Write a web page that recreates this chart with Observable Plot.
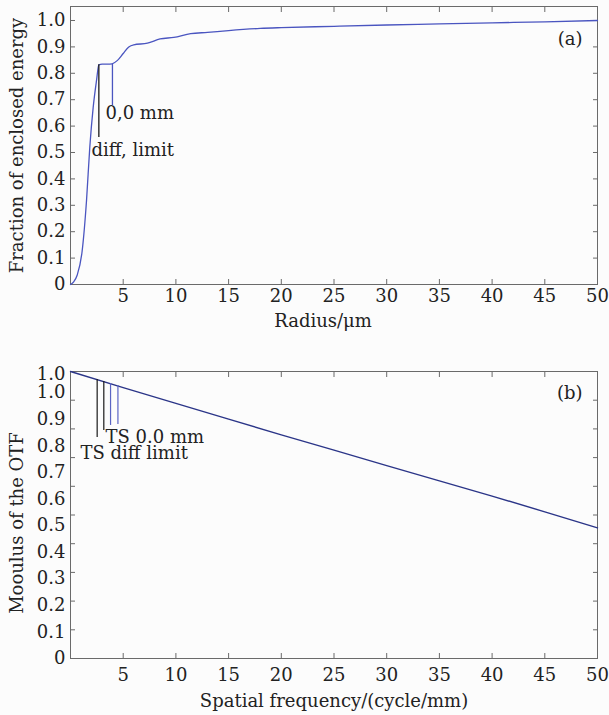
<!DOCTYPE html>
<html>
<head>
<meta charset="utf-8">
<script src="https://cdn.jsdelivr.net/npm/d3@7"></script>
<script src="https://cdn.jsdelivr.net/npm/@observablehq/plot@0.6"></script>
<style>
  html, body { margin: 0; padding: 0; background: #fcfcfc; }
  #chart svg { display: block; }
</style>
</head>
<body>
<div id="chart"></div>
<script>
// ---- Data (a): enclosed energy ----
const radius = [0, 0.3, 0.63, 1.1, 1.52, 1.83, 2.15, 2.47, 2.69, 3.0, 3.5, 3.95, 4.43, 5.0, 5.53, 6.0, 7.3, 8.5, 9.8, 11.4, 13, 15, 18, 20, 25, 30, 35, 40, 45, 50];
const energy = [0, 0.01, 0.035, 0.125, 0.318, 0.52, 0.67, 0.773, 0.832, 0.835, 0.835, 0.836, 0.848, 0.875, 0.90, 0.908, 0.914, 0.93, 0.936, 0.95, 0.955, 0.962, 0.97, 0.973, 0.978, 0.983, 0.987, 0.991, 0.995, 1.0];
const xTicks = [5, 10, 15, 20, 25, 30, 35, 40, 45, 50];
const yTicksA = [0, 0.1, 0.2, 0.3, 0.4, 0.5, 0.6, 0.7, 0.8, 0.9, 1.0];
const annotA_labels = ["diff, limit", "0,0 mm"];
const annotA_x = [2.69, 3.98];
const annotA_top = [0.832, 0.835];
const annotA_bottom = [0.557, 0.678];
const annotA_textX = [2.0, 3.32];
const annotA_textY = [0.508, 0.648];
const annotA_colors = ["#1a1a1a", "#4a55c0"];

// ---- Data (b): MTF ----
const freq = [0, 5, 10, 15, 20, 25, 30, 35, 40, 45, 50];
const mtf = [1.0, 0.944, 0.889, 0.834, 0.779, 0.726, 0.672, 0.619, 0.566, 0.511, 0.455];
const yTicksB = [0, 0.1, 0.2, 0.3, 0.4, 0.5, 0.6, 0.7, 0.8, 0.9, 1.0];
// tick labels as printed in the figure (misaligned with the tick marks)
const yLabelsB = ["0", "0.1", "0.2", "0.3", "0.4", "0.5", "0.6", "0.7", "0.8", "0.9", "1.0", "1.0"];
const yLabelPosB = [0, 0.093, 0.185, 0.278, 0.371, 0.463, 0.556, 0.648, 0.741, 0.833, 0.928, 0.992];
const annotB_x = [2.53, 3.16, 3.8, 4.5];
const annotB_top = [0.972, 0.965, 0.958, 0.951];
const annotB_bottom = [0.770, 0.794, 0.812, 0.815];
const annotB_colors = ["#1a1a1a", "#1a1a1a", "#5a64c4", "#5a64c4"];
const annotB_labels = ["TS 0.0 mm", "TS diff limit"];
const annotB_textX = [3.32, 0.95];
const annotB_textY = [0.772, 0.716];

const font = "DejaVu Serif";
const fs = 18;
const frameColor = "#6a6a6a";
const fmt = d => d === 0 ? "0" : d.toFixed(1);

const curveA = radius.map((r, i) => ({r, e: energy[i]}));
const rulesA = annotA_x.map((x, i) => ({x, y1: annotA_top[i], y2: annotA_bottom[i], c: annotA_colors[i]}));
const textsA = annotA_labels.map((t, i) => ({t, x: annotA_textX[i], y: annotA_textY[i]}));

const plotA = Plot.plot({
  width: 609, height: 340,
  marginLeft: 70, marginRight: 12, marginTop: 6, marginBottom: 56,
  style: {fontFamily: font, fontSize: fs + "px", background: "transparent", color: "#222", overflow: "visible"},
  x: {domain: [0, 50]},
  y: {domain: [0, 1.053]},
  marks: [
    Plot.frame({stroke: frameColor}),
    Plot.axisX({ticks: xTicks, tickSize: -5, text: null, stroke: frameColor}),
    Plot.axisX({anchor: "top", ticks: xTicks, tickSize: -5, text: null, stroke: frameColor, label: null}),
    Plot.axisX({ticks: xTicks, tickSize: 0, tickPadding: 5, label: null, tickFormat: d => String(d)}),
    Plot.axisY({ticks: yTicksA, tickSize: -5, text: null, stroke: frameColor}),
    Plot.axisY({anchor: "right", ticks: yTicksA, tickSize: -5, text: null, stroke: frameColor, label: null}),
    Plot.axisY({ticks: yTicksA, tickSize: 0, tickPadding: 5, label: null, tickFormat: fmt}),
    Plot.text(["Fraction of enclosed energy"], {frameAnchor: "left", textAnchor: "middle", rotate: -90, dx: -53, fontSize: fs}),
    Plot.text(["Radius/μm"], {frameAnchor: "bottom", dy: 42, dx: -11, fontSize: fs}),
    Plot.text(["(a)"], {frameAnchor: "top-right", textAnchor: "end", lineAnchor: "middle", dx: -15, dy: 33, fontSize: fs}),
    Plot.line(curveA, {x: "r", y: "e", stroke: "#4a55c0", strokeWidth: 1.3, curve: "monotone-x"}),
    Plot.ruleX(rulesA, {x: "x", y1: "y1", y2: "y2", stroke: "c", strokeWidth: 1.3}),
    Plot.text(textsA, {x: "x", y: "y", text: "t", textAnchor: "start", lineAnchor: "middle", fontSize: fs})
  ]
});

const curveB = freq.map((f, i) => ({f, m: mtf[i]}));
const rulesB = annotB_x.map((x, i) => ({x, y1: annotB_top[i], y2: annotB_bottom[i], c: annotB_colors[i]}));
const textsB = annotB_labels.map((t, i) => ({t, x: annotB_textX[i], y: annotB_textY[i]}));

const plotB = Plot.plot({
  width: 609, height: 375,
  marginLeft: 70, marginRight: 12, marginTop: 31, marginBottom: 57,
  style: {fontFamily: font, fontSize: fs + "px", background: "transparent", color: "#222", overflow: "visible"},
  x: {domain: [0, 50]},
  y: {domain: [0, 1]},
  marks: [
    Plot.frame({stroke: frameColor}),
    Plot.axisX({ticks: xTicks, tickSize: -5, text: null, stroke: frameColor}),
    Plot.axisX({anchor: "top", ticks: xTicks, tickSize: -5, text: null, stroke: frameColor, label: null}),
    Plot.axisX({ticks: xTicks, tickSize: 0, tickPadding: 10, label: null, tickFormat: d => String(d)}),
    Plot.axisY({ticks: yTicksB, tickSize: -5, text: null, stroke: frameColor}),
    Plot.axisY({anchor: "right", ticks: yTicksB, tickSize: -5, text: null, stroke: frameColor, label: null}),
    Plot.axisY({ticks: yLabelPosB, tickSize: 0, tickPadding: 5, label: null, tickFormat: (d, i) => yLabelsB[i]}),
    Plot.text(["Mooulus of the OTF"], {frameAnchor: "left", textAnchor: "middle", rotate: -90, dx: -53, dy: 8, fontSize: fs}),
    Plot.text(["Spatial frequency/(cycle/mm)"], {frameAnchor: "bottom", dy: 48, fontSize: fs}),
    Plot.text(["(b)"], {frameAnchor: "top-right", textAnchor: "end", lineAnchor: "middle", dx: -15, dy: 22, fontSize: fs}),
    Plot.line(curveB, {x: "f", y: "m", stroke: "#2b3588", strokeWidth: 1.4}),
    Plot.ruleX(rulesB, {x: "x", y1: "y1", y2: "y2", stroke: "c", strokeWidth: 1.2}),
    Plot.text(textsB, {x: "x", y: "y", text: "t", textAnchor: "start", lineAnchor: "middle", fontSize: fs})
  ]
});

document.getElementById("chart").append(plotA, plotB);
</script>
</body>
</html>
